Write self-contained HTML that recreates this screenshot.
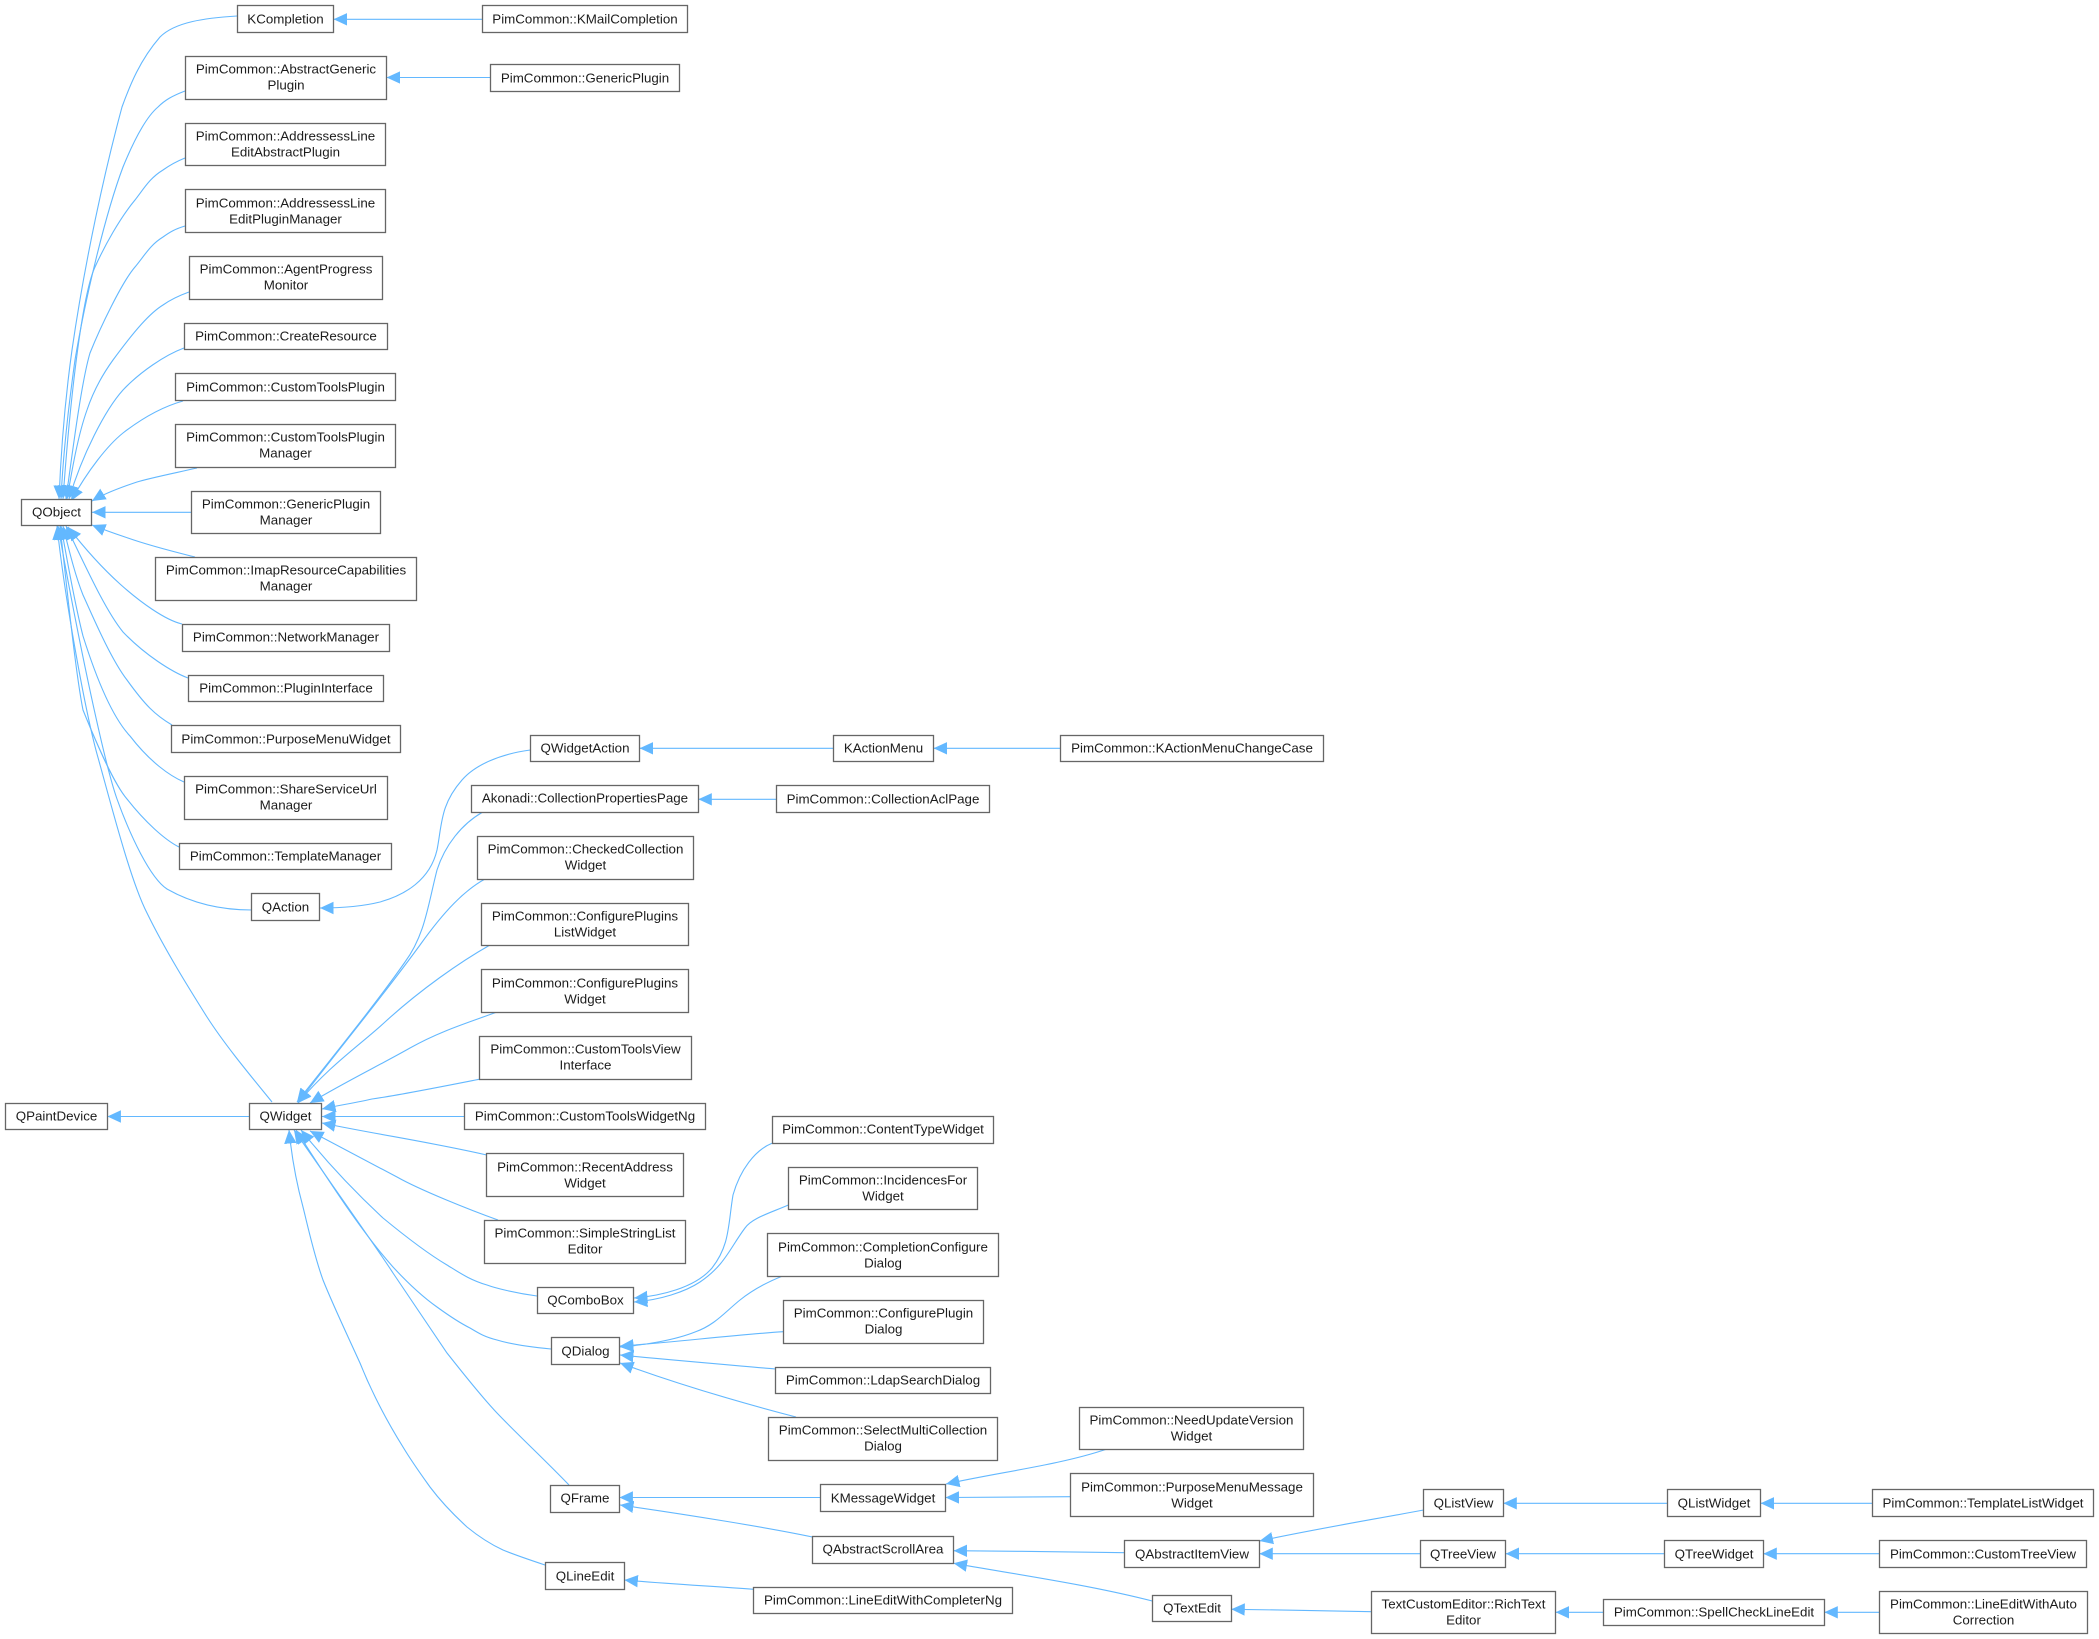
<!DOCTYPE html>
<html lang="en">
<head>
<meta charset="utf-8">
<title>Class hierarchy diagram</title>
<style>
html,body{margin:0;padding:0;background:#fff}
svg{display:block}
.e{fill:none;stroke:#63b8ff;stroke-width:1.1;marker-end:url(#a)}
rect{fill:#fff;stroke:#666;stroke-width:1.3}
text{font-family:"Liberation Sans",sans-serif;font-size:13.35px;fill:#1c1c1c;text-anchor:middle}
</style>
</head>
<body>
<svg xmlns="http://www.w3.org/2000/svg" width="2099" height="1639" viewBox="0 0 2099 1639">
<defs>
<marker id="a" markerUnits="userSpaceOnUse" markerWidth="14" markerHeight="14" viewBox="0 0 14 14" refX="13.5" refY="7" orient="auto">
<path d="M13.5 7 L0 0.8 L0 13.2 Z" fill="#63b8ff"/>
</marker>
</defs>

<g>
<path class="e" d="M237,16 C205,18 175,22 160,37 C140,60 130,85 122,107 C105,170 85,260 72,350 C65,400 61,450 59,499"/>
<path class="e" d="M185,91 C172,96 165,100 158,107 C145,118 132,145 123,167 C105,215 85,300 75,360 C68,410 63,455 61,499"/>
<path class="e" d="M185,158 C175,162 170,165 163,170 C150,178 145,187 135,200 C120,218 105,245 95,267 C82,295 70,400 63,499"/>
<path class="e" d="M185,226 C175,229 170,232 163,237 C150,245 145,255 135,267 C122,282 100,328 90,353 C82,380 74,440 66,499"/>
<path class="e" d="M189,292 C178,296 170,300 163,305 C150,313 135,330 113,360 C100,378 92,395 87,410 C78,435 72,470 67,499"/>
<path class="e" d="M184,348 C165,355 140,372 123,390 C105,410 82,455 69,499"/>
<path class="e" d="M183,401 C165,406 145,416 123,433 C108,445 88,470 71,501"/>
<path class="e" d="M197,468 C175,473 150,478 137,482 C122,487 105,493 92,501"/>
<path class="e" d="M191.5,512.3 L92,512.3"/>
<path class="e" d="M195,557 C175,552 150,546 125,537 C113,533 102,529 92,525"/>
<path class="e" d="M182,624 C165,620 140,602 120,584 C100,566 82,545 68,527"/>
<path class="e" d="M188,678 C172,672 145,655 123,632 C105,610 85,565 66,526"/>
<path class="e" d="M172,725 C155,715 145,705 127,680 C110,658 90,610 83,595 C75,575 69,550 63,526"/>
<path class="e" d="M184,782 C170,776 150,762 130,736 C115,720 100,690 83,636 C75,605 67,560 61,526"/>
<path class="e" d="M179,847 C165,840 145,822 127,799 C115,785 100,752 83,710 C75,670 65,570 60,526"/>
<path class="e" d="M252,910 C225,910 195,905 167,889 C150,878 130,835 117,799 C105,765 80,650 58,526"/>
<path class="e" d="M272,1102 C250,1075 225,1045 207,1017 C190,990 165,950 147,913 C130,880 110,800 97,754 C85,710 65,600 57,526"/>

<path class="e" d="M249.3,1116.5 L107.4,1116.5"/>
<path class="e" d="M482.6,19.3 L333.5,19.3"/>
<path class="e" d="M490.4,77.5 L386.6,77.5"/>
<path class="e" d="M530.3,750 C500,754 475,765 462,780 C440,805 442,825 437,850 C430,880 405,895 380,902 C360,907 340,908 320,908"/>

<path class="e" d="M482,812.5 C462,824 445,845 437,870 C428,905 425,935 405,962 C375,1005 330,1060 297,1102"/>
<path class="e" d="M485,879 C465,890 445,910 420,945 C380,1000 330,1060 298,1103"/>
<path class="e" d="M490,945 C460,962 420,990 385,1022 C360,1045 330,1065 298,1103"/>
<path class="e" d="M497,1012 C470,1022 440,1031 410,1048 C380,1065 345,1082 310,1103"/>
<path class="e" d="M479,1079.3 C440,1087 400,1095 372,1099 C355,1103 340,1105 322,1109"/>
<path class="e" d="M464.2,1116.5 L322,1116.5"/>
<path class="e" d="M486.7,1155 C430,1142 380,1135 322,1123"/>
<path class="e" d="M498,1220 C470,1210 420,1190 397,1177 C370,1163 340,1147 310,1131"/>
<path class="e" d="M537,1296 C515,1293 495,1288 487,1285 C470,1280 460,1273 447,1265 C425,1252 400,1232 383,1218 C355,1192 325,1160 301,1130"/>
<path class="e" d="M551,1349 C530,1347 510,1344 497,1340 C485,1337 480,1334 470,1328 C458,1322 448,1315 437,1307 C420,1295 405,1280 393,1267 C360,1230 325,1175 296,1130"/>
<path class="e" d="M569,1485 C545,1460 520,1437 497,1413 C480,1395 462,1372 447,1353 C428,1325 410,1298 393,1273 C375,1245 325,1175 294,1130"/>
<path class="e" d="M545,1565 C530,1560 515,1555 503,1550 C490,1544 478,1536 467,1527 C455,1516 442,1503 430,1487 C420,1473 412,1462 403,1447 C385,1418 372,1393 360,1363 C345,1330 333,1305 323,1280 C314,1255 308,1227 303,1207 C297,1185 292,1160 289,1130"/>

<path class="e" d="M772,1143.3 C755,1150 740,1170 733,1195 C728,1225 730,1245 712,1268 C695,1288 660,1296 634,1298"/>
<path class="e" d="M788.4,1205 C770,1213 752,1218 745,1228 C730,1248 725,1265 700,1282 C685,1292 660,1300 634,1302"/>
<path class="e" d="M782.6,1276 C765,1283 750,1292 740,1300 C725,1312 715,1325 695,1332 C675,1340 645,1345 620,1347"/>
<path class="e" d="M783.5,1331.7 C730,1335 670,1343 620,1346"/>
<path class="e" d="M775.4,1369 C730,1365 670,1360 620,1355"/>
<path class="e" d="M796,1417 C750,1405 680,1385 620,1363"/>

<path class="e" d="M1107,1449 C1060,1465 1000,1472 946,1484"/>
<path class="e" d="M1070.5,1496.7 L945.5,1497.5"/>
<path class="e" d="M820.5,1497.5 L619.4,1497.5"/>
<path class="e" d="M812.5,1537 C770,1528 690,1515 620,1505"/>
<path class="e" d="M753.6,1589.3 C710,1586 670,1584 624.4,1580"/>
<path class="e" d="M1124.5,1552.7 C1070,1552 1010,1551 953.6,1550.7"/>
<path class="e" d="M1152.2,1601 C1090,1585 1020,1575 953.6,1563.3"/>
<path class="e" d="M1423.6,1510 C1370,1520 1310,1530 1259.5,1541"/>
<path class="e" d="M1420.3,1553.7 L1259.3,1553.7"/>
<path class="e" d="M1667.5,1503.3 L1503.3,1503.3"/>
<path class="e" d="M1872.4,1503.3 L1760.6,1503.3"/>
<path class="e" d="M1664.3,1553.7 L1505.6,1553.7"/>
<path class="e" d="M1879.3,1553.7 L1763.3,1553.7"/>
<path class="e" d="M1371.4,1611.7 C1320,1610.5 1280,1610 1231.3,1609.3"/>
<path class="e" d="M1603.3,1612.3 L1555.6,1612.3"/>
<path class="e" d="M1879.3,1612.3 L1824.3,1612.3"/>
<path class="e" d="M1060.3,748.3 L933.5,748.3"/>
<path class="e" d="M833.5,748.3 L639.6,748.3"/>
<path class="e" d="M776.3,799.3 L698.3,799.3"/>
</g>

<g>
<rect x="237.5" y="5.5" width="96" height="27"/><text x="285.5" y="23.5">KCompletion</text>
<rect x="482.5" y="5.5" width="205" height="27"/><text x="585" y="23.5">PimCommon::KMailCompletion</text>
<rect x="185.5" y="56.5" width="201" height="43"/><text x="286" y="73.5">PimCommon::AbstractGeneric</text><text x="286" y="89.5">Plugin</text>
<rect x="490.5" y="64.5" width="189" height="27"/><text x="585" y="82.5">PimCommon::GenericPlugin</text>
<rect x="185.5" y="123.5" width="200" height="42"/><text x="285.5" y="140.5">PimCommon::AddressessLine</text><text x="285.5" y="156.5">EditAbstractPlugin</text>
<rect x="185.5" y="189.5" width="200" height="43"/><text x="285.5" y="207.5">PimCommon::AddressessLine</text><text x="285.5" y="223.5">EditPluginManager</text>
<rect x="189.5" y="256.5" width="193" height="43"/><text x="286" y="273.5">PimCommon::AgentProgress</text><text x="286" y="289.5">Monitor</text>
<rect x="184.5" y="323.5" width="203" height="26"/><text x="286" y="340.5">PimCommon::CreateResource</text>
<rect x="175.5" y="373.5" width="220" height="27"/><text x="285.5" y="391.5">PimCommon::CustomToolsPlugin</text>
<rect x="175.5" y="424.5" width="220" height="43"/><text x="285.5" y="441.5">PimCommon::CustomToolsPlugin</text><text x="285.5" y="457.5">Manager</text>
<rect x="191.5" y="491.5" width="189" height="42"/><text x="286" y="508.5">PimCommon::GenericPlugin</text><text x="286" y="524.5">Manager</text>
<rect x="21.5" y="499.5" width="70" height="26"/><text x="56.5" y="516.5">QObject</text>
<rect x="155.5" y="557.5" width="261" height="43"/><text x="286" y="574.5">PimCommon::ImapResourceCapabilities</text><text x="286" y="590.5">Manager</text>
<rect x="182.5" y="624.5" width="207" height="27"/><text x="286" y="641.5">PimCommon::NetworkManager</text>
<rect x="188.5" y="675.5" width="195" height="26"/><text x="286" y="692.5">PimCommon::PluginInterface</text>
<rect x="171.5" y="725.5" width="229" height="27"/><text x="286" y="743.5">PimCommon::PurposeMenuWidget</text>
<rect x="184.5" y="776.5" width="203" height="43"/><text x="286" y="793.5">PimCommon::ShareServiceUrl</text><text x="286" y="809.5">Manager</text>
<rect x="179.5" y="843.5" width="212" height="26"/><text x="285.5" y="860.5">PimCommon::TemplateManager</text>
<rect x="251.5" y="893.5" width="68" height="27"/><text x="285.5" y="911.5">QAction</text>
<rect x="530.5" y="735.5" width="109" height="26"/><text x="585" y="752.5">QWidgetAction</text>
<rect x="471.5" y="785.5" width="227" height="27"/><text x="585" y="802.5">Akonadi::CollectionPropertiesPage</text>
<rect x="477.5" y="836.5" width="216" height="43"/><text x="585.5" y="853.5">PimCommon::CheckedCollection</text><text x="585.5" y="869.5">Widget</text>
<rect x="481.5" y="903.5" width="207" height="42"/><text x="585" y="920.5">PimCommon::ConfigurePlugins</text><text x="585" y="936.5">ListWidget</text>
<rect x="481.5" y="969.5" width="207" height="43"/><text x="585" y="987.5">PimCommon::ConfigurePlugins</text><text x="585" y="1003.5">Widget</text>
<rect x="479.5" y="1036.5" width="212" height="43"/><text x="585.5" y="1053.5">PimCommon::CustomToolsView</text><text x="585.5" y="1069.5">Interface</text>
<rect x="5.5" y="1103.5" width="102" height="26"/><text x="56.5" y="1120.5">QPaintDevice</text>
<rect x="249.5" y="1103.5" width="72" height="26"/><text x="285.5" y="1120.5">QWidget</text>
<rect x="464.5" y="1103.5" width="241" height="26"/><text x="585" y="1120.5">PimCommon::CustomToolsWidgetNg</text>
<rect x="486.5" y="1153.5" width="197" height="43"/><text x="585" y="1171.5">PimCommon::RecentAddress</text><text x="585" y="1187.5">Widget</text>
<rect x="484.5" y="1220.5" width="201" height="43"/><text x="585" y="1237.5">PimCommon::SimpleStringList</text><text x="585" y="1253.5">Editor</text>
<rect x="537.5" y="1287.5" width="96" height="26"/><text x="585.5" y="1304.5">QComboBox</text>
<rect x="551.5" y="1337.5" width="68" height="27"/><text x="585.5" y="1355.5">QDialog</text>
<rect x="550.5" y="1485.5" width="69" height="27"/><text x="585" y="1502.5">QFrame</text>
<rect x="545.5" y="1562.5" width="79" height="27"/><text x="585" y="1580.5">QLineEdit</text>
<rect x="833.5" y="735.5" width="100" height="26"/><text x="883.5" y="752.5">KActionMenu</text>
<rect x="1060.5" y="735.5" width="263" height="26"/><text x="1192" y="752.5">PimCommon::KActionMenuChangeCase</text>
<rect x="776.5" y="785.5" width="213" height="27"/><text x="883" y="803.5">PimCommon::CollectionAclPage</text>
<rect x="772.5" y="1116.5" width="221" height="27"/><text x="883" y="1133.5">PimCommon::ContentTypeWidget</text>
<rect x="788.5" y="1167.5" width="189" height="42"/><text x="883" y="1184.5">PimCommon::IncidencesFor</text><text x="883" y="1200.5">Widget</text>
<rect x="767.5" y="1233.5" width="231" height="43"/><text x="883" y="1251.5">PimCommon::CompletionConfigure</text><text x="883" y="1267.5">Dialog</text>
<rect x="783.5" y="1300.5" width="200" height="43"/><text x="883.5" y="1317.5">PimCommon::ConfigurePlugin</text><text x="883.5" y="1333.5">Dialog</text>
<rect x="775.5" y="1367.5" width="215" height="26"/><text x="883" y="1384.5">PimCommon::LdapSearchDialog</text>
<rect x="768.5" y="1417.5" width="229" height="43"/><text x="883" y="1434.5">PimCommon::SelectMultiCollection</text><text x="883" y="1450.5">Dialog</text>
<rect x="1079.5" y="1407.5" width="224" height="42"/><text x="1191.5" y="1424.5">PimCommon::NeedUpdateVersion</text><text x="1191.5" y="1440.5">Widget</text>
<rect x="1070.5" y="1473.5" width="243" height="43"/><text x="1192" y="1491.5">PimCommon::PurposeMenuMessage</text><text x="1192" y="1507.5">Widget</text>
<rect x="820.5" y="1484.5" width="125" height="27"/><text x="883" y="1502.5">KMessageWidget</text>
<rect x="812.5" y="1536.5" width="141" height="27"/><text x="883" y="1553.5">QAbstractScrollArea</text>
<rect x="753.5" y="1587.5" width="259" height="26"/><text x="883" y="1604.5">PimCommon::LineEditWithCompleterNg</text>
<rect x="1124.5" y="1540.5" width="135" height="27"/><text x="1192" y="1558.5">QAbstractItemView</text>
<rect x="1152.5" y="1595.5" width="79" height="26"/><text x="1192" y="1612.5">QTextEdit</text>
<rect x="1423.5" y="1489.5" width="80" height="27"/><text x="1463.5" y="1507.5">QListView</text>
<rect x="1667.5" y="1489.5" width="93" height="27"/><text x="1714" y="1507.5">QListWidget</text>
<rect x="1872.5" y="1489.5" width="221" height="27"/><text x="1983" y="1507.5">PimCommon::TemplateListWidget</text>
<rect x="1420.5" y="1540.5" width="85" height="27"/><text x="1463" y="1558.5">QTreeView</text>
<rect x="1664.5" y="1540.5" width="99" height="27"/><text x="1714" y="1558.5">QTreeWidget</text>
<rect x="1879.5" y="1540.5" width="207" height="27"/><text x="1983" y="1558.5">PimCommon::CustomTreeView</text>
<rect x="1371.5" y="1591.5" width="184" height="42"/><text x="1463.5" y="1608.5">TextCustomEditor::RichText</text><text x="1463.5" y="1624.5">Editor</text>
<rect x="1603.5" y="1599.5" width="221" height="26"/><text x="1714" y="1616.5">PimCommon::SpellCheckLineEdit</text>
<rect x="1879.5" y="1591.5" width="208" height="42"/><text x="1983.5" y="1608.5">PimCommon::LineEditWithAuto</text><text x="1983.5" y="1624.5">Correction</text>
</g>
</svg>
</body>
</html>
